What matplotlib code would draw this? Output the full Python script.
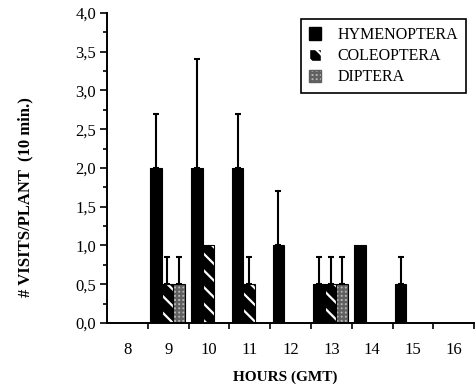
import numpy as np
import matplotlib
matplotlib.use("Agg")
from matplotlib import pyplot as plt
from matplotlib.patches import Patch

hours = ["8", "9", "10", "11", "12", "13", "14", "15", "16"]
hymenoptera = [0, 2.0, 2.0, 2.0, 1.0, 0.5, 1.0, 0.5, 0]
hymenoptera_err = [0, 0.7, 1.4, 0.7, 0.7, 0.35, 0, 0.35, 0]
coleoptera = [0, 0.5, 1.0, 0.5, 0, 0.5, 0, 0, 0]
coleoptera_err = [0, 0.35, 0, 0.35, 0, 0.35, 0, 0, 0]
diptera = [0, 0.5, 0, 0, 0, 0.5, 0, 0, 0]
diptera_err = [0, 0.35, 0, 0, 0, 0.35, 0, 0, 0]

plt.rcParams['font.family'] = ['Liberation Serif', 'DejaVu Serif']
plt.rcParams['hatch.linewidth'] = 1.6

fig = plt.figure(figsize=(4.76, 3.91), dpi=100)
ax = fig.add_axes([0.225, 0.174, 0.771, 0.793])

x = np.arange(len(hours))
w = 0.28


def draw(pos, vals, errs, **style):
    vals = np.array(vals, dtype=float)
    errs = np.array(errs, dtype=float)
    keep = vals > 0
    ax.bar(pos[keep], vals[keep], w, **style)
    ax.bar(pos[keep], vals[keep], w, fill=False, edgecolor="black", lw=0.8)
    e = errs > 0
    ax.errorbar(pos[e], vals[e], yerr=[np.zeros(e.sum()), errs[e]], fmt="none",
                ecolor="black", elinewidth=1.5, capsize=2.5, capthick=1.5)


draw(x - w - 0.02, hymenoptera, hymenoptera_err, color="black", lw=0)
draw(x - 0.02, coleoptera, coleoptera_err, color="black", edgecolor="white",
     hatch="\\\\", lw=0)
draw(x + w - 0.02, diptera, diptera_err, color="#b5b5b5", edgecolor="#606060",
     hatch="++++", lw=0)

handles = [
    Patch(facecolor="black", edgecolor="black", label="HYMENOPTERA"),
    Patch(facecolor="black", edgecolor="white", hatch="\\\\", label="COLEOPTERA"),
    Patch(facecolor="#b5b5b5", edgecolor="#606060", hatch="++++", label="DIPTERA"),
]
leg = ax.legend(handles=handles, loc="upper right", bbox_to_anchor=(0.978, 0.98),
                fancybox=False, edgecolor="black", framealpha=1, fontsize=11.5,
                handlelength=0.8, handleheight=0.8, handletextpad=1.0,
                labelspacing=0.32, borderpad=0.5, borderaxespad=0)
leg.get_frame().set_linewidth(1.2)

ax.set_xlim(-0.5, 8.5)
ax.set_ylim(0, 4.0)
yt = np.arange(0, 4.01, 0.5)
ax.set_yticks(yt)
ax.set_yticklabels([f"{v:.1f}".replace(".", ",") for v in yt])
ax.set_yticks(np.arange(0, 4.01, 0.25), minor=True)

ax.set_xticks(x)
ax.set_xticklabels(hours)
ax.set_xticks(np.arange(0.5, 8.6, 1), minor=True)
ax.tick_params(axis="x", which="major", length=0, pad=14, labelsize=12)
ax.tick_params(axis="x", which="minor", length=4, width=1.2, direction="out")
ax.tick_params(axis="y", which="major", length=5, width=1.2, labelsize=12, pad=3)
ax.tick_params(axis="y", which="minor", length=3, width=1.2)

for s in ["top", "right"]:
    ax.spines[s].set_visible(False)
for s in ["left", "bottom"]:
    ax.spines[s].set_linewidth(1.4)

ax.set_xlabel("HOURS (GMT)", fontweight="bold", fontsize=11, va="center")
ax.set_ylabel("# VISITS/PLANT  (10 min.)", fontweight="bold", fontsize=12, va="center")
ax.xaxis.set_label_coords(0.485, -0.174)
ax.yaxis.set_label_coords(-0.224, 0.406)

fig.savefig("out.png", dpi=100)
